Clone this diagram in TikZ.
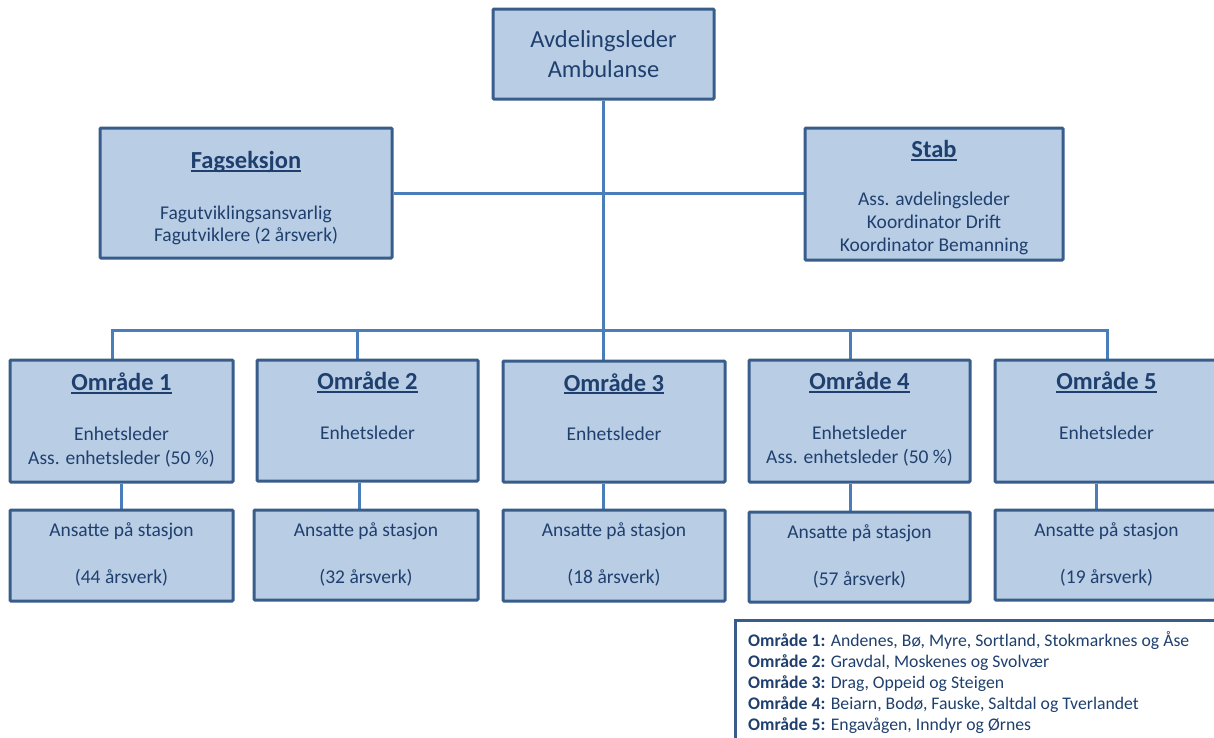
\documentclass[tikz,border=0pt]{standalone}
\usepackage{fontspec}
\setmainfont{Carlito}
\usetikzlibrary{backgrounds}
\definecolor{boxfill}{RGB}{185,205,229}
\definecolor{boxline}{RGB}{56,93,138}
\definecolor{connc}{RGB}{74,126,187}
\definecolor{txtc}{RGB}{31,64,110}
\newcommand\ulx[1]{\setbox0\hbox{#1}\rlap{\rule[-0.13em]{\wd0}{0.075em}}\box0}
\begin{document}
\begin{tikzpicture}[x=1pt,y=-1pt,
  box/.style={draw=boxline, fill=boxfill, line width=3pt, inner sep=0pt, rounded corners=1pt},
  legbox/.style={draw=boxline, fill=white, line width=3pt, inner sep=0pt},
  link/.style={draw=connc, line width=3pt},
  ln/.style={text=txtc, inner sep=0pt, text height=0.75em, text depth=0.15em, yshift=-4.5pt},
  body/.style={ln, font=\fontsize{19.5}{23}\selectfont},
  big/.style={ln, font=\fontsize{24.5}{30}\selectfont},
  ttl/.style={ln, font=\fontsize{24.5}{30}\selectfont\bfseries},
  leg/.style={ln, anchor=west, font=\fontsize{17.7}{21}\selectfont},
]
\useasboundingbox (0,0) rectangle (1214,737);

% boxes
\node[box, minimum width=221pt, minimum height=90pt] (top) at (603.5,54) {};
\node[box, minimum width=292pt, minimum height=130pt] (fag) at (246,193) {};
\node[box, minimum width=258pt, minimum height=132pt] (stab) at (934,194) {};
\node[box, minimum width=223pt, minimum height=122pt] (o1) at (121.5,421) {};
\node[box, minimum width=221pt, minimum height=121pt] (o2) at (367.5,420.5) {};
\node[box, minimum width=222pt, minimum height=121pt] (o3) at (614,421.5) {};
\node[box, minimum width=221pt, minimum height=122pt] (o4) at (859.5,421) {};
\node[box, minimum width=223pt, minimum height=122pt] (o5) at (1106.5,421) {};
\node[box, minimum width=223pt, minimum height=91pt] (a1) at (121.5,555.5) {};
\node[box, minimum width=224pt, minimum height=90pt] (a2) at (366,555) {};
\node[box, minimum width=222pt, minimum height=91pt] (a3) at (614,555.5) {};
\node[box, minimum width=221pt, minimum height=90pt] (a4) at (859.5,557) {};
\node[box, minimum width=223pt, minimum height=90pt] (a5) at (1106.5,555) {};
\node[legbox, minimum width=495pt, minimum height=130pt] (legend) at (982.5,685) {};

\coordinate (bus) at (603.5,330);

% connectors
\begin{scope}[on background layer]
\draw[link] (top.south) -- (top.south |- o3.north);
\draw[link] (fag.east) -- (fag.east -| stab.west);
\draw[link] ([xshift=-9.5pt]o1.north) |- (bus) -| ([xshift=0.5pt]o5.north);
\draw[link] ([xshift=-10.5pt]o2.north) -- ([xshift=-10.5pt]o2.north |- bus);
\draw[link] ([xshift=-9.5pt]o4.north) -- ([xshift=-9.5pt]o4.north |- bus);
\draw[link] (o1.south) -- (o1.south |- a1.north);
\draw[link] ([xshift=-8.5pt]o2.south) -- ([xshift=-8.5pt]o2.south |- a2.north);
\draw[link] ([xshift=-11pt]o3.south) -- ([xshift=-11pt]o3.south |- a3.north);
\draw[link] ([xshift=-9.5pt]o4.south) -- ([xshift=-9.5pt]o4.south |- a4.north);
\draw[link] ([xshift=-10.5pt]o5.south) -- ([xshift=-10.5pt]o5.south |- a5.north);
\end{scope}

% texts
\node[big] (t1) at (603.5,40) {Avdelingsleder};
\node[big] (t2) at (603.5,70) {Ambulanse};

\node[ttl] (f0) at (246,161) {\ulx{Fagseksjon}};
\node[body] (f1) at (246,211.5) {Fagutviklingsansvarlig};
\node[body] (f2) at (246,234) {Fagutviklere (2 årsverk)};

\node[ttl] (s0) at (934,150) {\ulx{Stab}};
\node[body] (s1) at (934,198) {Ass. avdelingsleder};
\node[body] (s2) at (934,221) {Koordinator Drift};
\node[body] (s3) at (934,244) {Koordinator Bemanning};

\node[ttl] (o1t) at (121.5,383) {\ulx{Område 1}};
\node[body] (o1a) at (121.5,433) {Enhetsleder};
\node[body] (o1b) at (121.5,457) {Ass. enhetsleder (50 \%)};
\node[ttl] (o2t) at (367.5,382) {\ulx{Område 2}};
\node[body] (o2a) at (367.5,432) {Enhetsleder};
\node[ttl] (o3t) at (614,383.5) {\ulx{Område 3}};
\node[body] (o3a) at (614,433) {Enhetsleder};
\node[ttl] (o4t) at (859.5,382) {\ulx{Område 4}};
\node[body] (o4a) at (859.5,432) {Enhetsleder};
\node[body] (o4b) at (859.5,456) {Ass. enhetsleder (50 \%)};
\node[ttl] (o5t) at (1106.5,382) {\ulx{Område 5}};
\node[body] (o5a) at (1106.5,432) {Enhetsleder};

\node[body] (a1a) at (121.5,529) {Ansatte på stasjon};
\node[body] (a1b) at (121.5,576) {(44 årsverk)};
\node[body] (a2a) at (366,529) {Ansatte på stasjon};
\node[body] (a2b) at (366,576) {(32 årsverk)};
\node[body] (a3a) at (614,529) {Ansatte på stasjon};
\node[body] (a3b) at (614,576) {(18 årsverk)};
\node[body] (a4a) at (859.5,531) {Ansatte på stasjon};
\node[body] (a4b) at (859.5,578) {(57 årsverk)};
\node[body] (a5a) at (1106.5,529) {Ansatte på stasjon};
\node[body] (a5b) at (1106.5,576) {(19 årsverk)};

\node[leg] (l1) at (748,639) {\textbf{Område 1:} Andenes, Bø, Myre, Sortland, Stokmarknes og Åse};
\node[leg] (l2) at (748,660) {\textbf{Område 2:} Gravdal, Moskenes og Svolvær};
\node[leg] (l3) at (748,681) {\textbf{Område 3:} Drag, Oppeid og Steigen};
\node[leg] (l4) at (748,702) {\textbf{Område 4:} Beiarn, Bodø, Fauske, Saltdal og Tverlandet};
\node[leg] (l5) at (748,723) {\textbf{Område 5:} Engavågen, Inndyr og Ørnes};
\end{tikzpicture}
\end{document}
